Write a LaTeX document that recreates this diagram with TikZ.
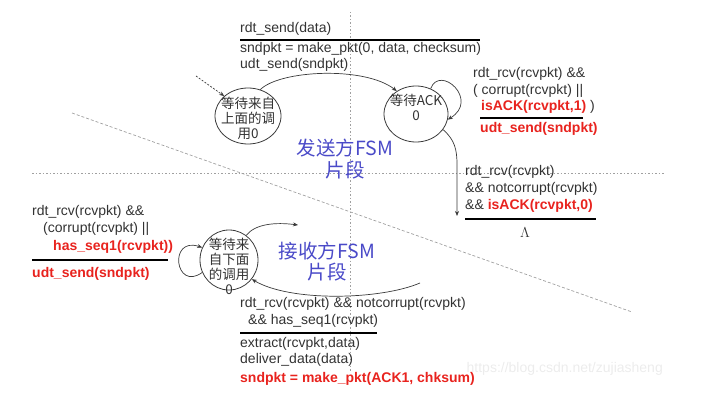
\documentclass[tikz,border=0pt]{standalone}
\usepackage{fontspec}
\setmainfont{Liberation Sans}
\newfontfamily\cjk{Noto Sans CJK SC}
\usetikzlibrary{arrows.meta,shapes.geometric,calc}
\definecolor{ink}{HTML}{333333}
\definecolor{wire}{HTML}{3A3A3A}
\definecolor{hot}{HTML}{E8231E}
\definecolor{fsmblue}{HTML}{4A4AC8}
\definecolor{guide}{HTML}{A0A0A0}
\definecolor{wmark}{HTML}{ECECEC}
\tikzset{
  >={Stealth[length=5pt,width=4pt]},
  state/.style={draw=wire,ellipse,line width=0.8pt,inner sep=0pt},
  stxt/.style={font=\cjk\fontsize{13.5}{15}\selectfont,align=center,text=ink,inner sep=0pt},
  lab/.style={anchor=mid west,inner sep=0pt,font=\fontsize{14}{17}\selectfont,text=ink},
  hlab/.style={lab,text=hot,font=\fontsize{14}{17}\selectfont\bfseries},
  bar/.style={draw=black,line width=1.6pt},
  arr/.style={->,draw=wire,line width=0.7pt},
  guideline/.style={draw=guide,line width=0.7pt,dash pattern=on 1.5pt off 2pt},
  fsm/.style={font=\cjk\fontsize{19.5}{22}\selectfont,text=fsmblue,inner sep=0pt},
}
\newcommand{\redb}[1]{{\color{hot}\bfseries #1}}

\begin{document}
\begin{tikzpicture}[x=1pt,y=-1pt]
\useasboundingbox (0,0) rectangle (711,401);
% guide lines
\draw[guideline] (350,12) -- (350,372);
\draw[guideline] (32,173) -- (665,173);
\draw[guideline,dash pattern=on 3pt off 2pt] (72,113) -- (632,312);

% sender states
\node[state,minimum width=66,minimum height=56] (send0) at (248,116) {};
\node[stxt] (send0t) at ($(send0)+(0,2)$) {等待来自\\上面的调\\用0};
\node[state,minimum width=64,minimum height=56] (ack0) at (416,114) {};
\node[stxt] (ack0t) at ($(ack0)+(0,-7)$) {等待ACK\\0};

% receiver state
\node[state,minimum width=58,minimum height=60] (rcv0) at (229,260) {};
\node[stxt] (rcv0t) at ($(rcv0)+(0,6)$) {等待来\\自下面\\的调用\\0};

% free ends
\coordinate (entry) at (196,76);
\coordinate (ackout) at (457,216);
\coordinate (rcvnext) at (298,225);
\coordinate (rcvin) at (420,283);

% transitions
\draw[arr,dash pattern=on 2pt off 1.5pt] (entry) -- (send0.140);
\draw[arr] (send0.65) .. controls (280,70) and (365,66) .. (ack0.130);
\draw[arr] (ack0.60) .. controls (440,64) and (480,100) .. (ack0.-10);
\draw[arr] (ack0.-30) .. controls (455,140) and (457,150) .. (457,165) -- (ackout);
\draw[arr] (rcv0.205) .. controls (175,292) and (168,236) .. (rcv0.155);
\draw[arr] (rcv0.55) .. controls (255,224) and (275,222) .. (rcvnext);
\draw[arr] (rcvin) .. controls (380,300) and (290,302) .. (rcv0.-40);

% sender labels
\node[lab] (s1) at (240,30) {rdt\_send(data)};
\draw[bar] (240,40) -- (480,40);
\node[lab] (s2) at (240,50) {sndpkt = make\_pkt(0, data, checksum)};
\node[lab] (s3) at (240,66) {udt\_send(sndpkt)};

\node[lab] (a1) at (473,75) {rdt\_rcv(rcvpkt) \&\&};
\node[lab] (a2) at (473,92) {( corrupt(rcvpkt) ||};
\node[lab] (a3) at (481,108) {\redb{isACK(rcvpkt,1)} )};
\draw[bar] (480,118) -- (583,118);
\node[hlab] (a4) at (480,130) {udt\_send(sndpkt)};

\node[lab] (b1) at (465,173) {rdt\_rcv(rcvpkt)};
\node[lab] (b2) at (465,190) {\&\& notcorrupt(rcvpkt)};
\node[lab] (b3) at (465,207) {\&\& \redb{isACK(rcvpkt,0)}};
\draw[bar] (465,219) -- (596,219);
\node[lab,anchor=center] (b4) at (525,233) {$\Lambda$};

% receiver labels
\node[lab] (r1) at (32,213) {rdt\_rcv(rcvpkt) \&\&};
\node[lab] (r2) at (43,230) {(corrupt(rcvpkt) ||};
\node[hlab] (r3) at (53,248) {has\_seq1(rcvpkt))};
\draw[bar] (32,260) -- (168,260);
\node[hlab] (r4) at (32,275) {udt\_send(sndpkt)};

\node[lab] (d1) at (240,305) {rdt\_rcv(rcvpkt) \&\& notcorrupt(rcvpkt)};
\node[lab] (d2) at (248,322) {\&\& has\_seq1(rcvpkt)};
\draw[bar] (240,333) -- (377,333);
\node[lab] (d3) at (240,345) {extract(rcvpkt,data)};
\node[lab] (d4) at (240,361) {deliver\_data(data)};
\node[hlab] (d5) at (240,380) {sndpkt = make\_pkt(ACK1, chksum)};

% region titles
\node[fsm] (sfsm) at (345,148) {发送方FSM};
\node[fsm] (sfsm2) at (345,170) {片段};
\node[fsm] (rfsm) at (327,251) {接收方FSM};
\node[fsm] (rfsm2) at (327,272) {片段};

\node[lab,anchor=mid east,text=wmark] (wm) at (663,370) {https://blog.csdn.net/zujiasheng};
\end{tikzpicture}
\end{document}
